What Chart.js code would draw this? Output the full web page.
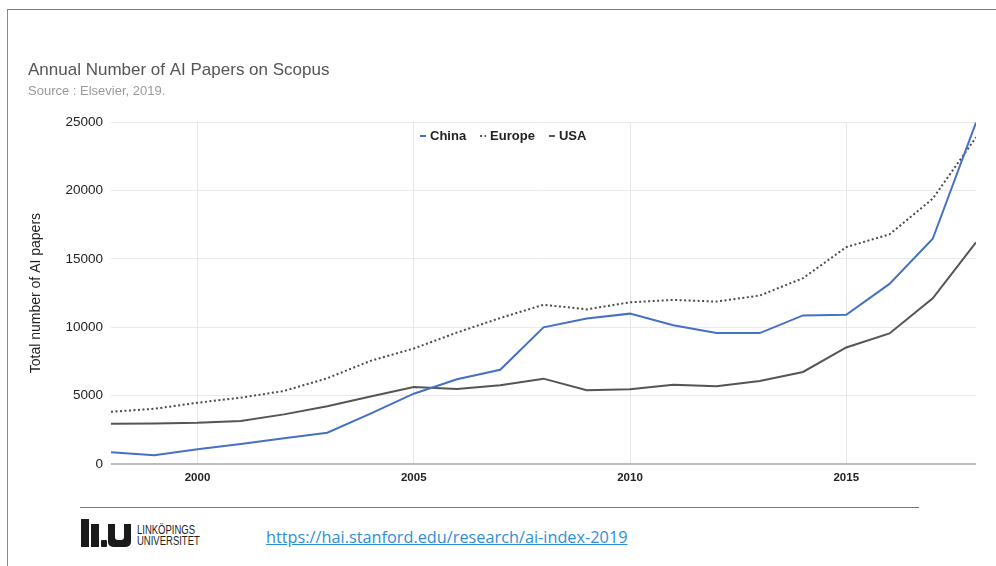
<!DOCTYPE html>
<html>
<head>
<meta charset="utf-8">
<script src="https://cdn.jsdelivr.net/npm/chart.js@4.4.1/dist/chart.umd.min.js"></script>
<style>
  html, body { margin: 0; padding: 0; background: #fff; }
  body { width: 996px; height: 566px; position: relative; overflow: hidden; font-family: "Liberation Sans", Arial, sans-serif; }
  #marco { position: absolute; left: 7px; top: 9px; width: 1000px; height: 600px; border-left: 1px solid #8a8a8a; border-top: 1px solid #7a7a7a; }
  #lienzo { position: absolute; left: 0; top: 0; }
  #pie { position: absolute; left: 80px; top: 507px; width: 839px; border-top: 1px solid #777; }
  .logo { position: absolute; background: #1a1a1a; }
  #universidad { position: absolute; left: 137px; top: 525px; font-size: 12.5px; line-height: 11px; color: #222; transform: scaleX(0.76); transform-origin: left; }
  #enlace { position: absolute; left: 266px; top: 526px; font-family: "Open Sans", sans-serif; font-size: 16.3px; color: #2f8ed6; text-decoration: underline; }
</style>
</head>
<body>
<div id="marco"></div>
<canvas id="lienzo" width="996" height="499"></canvas>
<div id="pie"></div>
<!-- logo LiU -->
<div class="logo" style="left:81px;top:519px;width:8px;height:28px"></div>
<div class="logo" style="left:91px;top:524px;width:8px;height:23px"></div>
<div class="logo" style="left:101px;top:540px;width:6px;height:7px;border-radius:1px"></div>
<div class="logo" style="left:108px;top:524px;width:23px;height:23px;border-radius:0 0 5px 5px"></div>
<div class="logo" style="left:115px;top:524px;width:9px;height:16px;background:#fff;border-radius:0 0 3px 3px"></div>
<div id="universidad">LINKÖPINGS<br>UNIVERSITET</div>
<div id="enlace">https://hai.stanford.edu/research/ai-index-2019</div>

<script>
// Datos: artículos de IA por año (Scopus)
const anios = [1998, 1999, 2000, 2001, 2002, 2003, 2004, 2005, 2006, 2007, 2008,
               2009, 2010, 2011, 2012, 2013, 2014, 2015, 2016, 2017, 2018];
const china = [880, 660, 1100, 1470, 1900, 2300, 3700, 5150, 6200, 6900, 10000,
               10650, 11000, 10150, 9580, 9580, 10870, 10920, 13170, 16470, 24950];
const europa = [3830, 4050, 4490, 4860, 5350, 6280, 7550, 8450, 9620, 10680, 11650,
                11310, 11830, 12000, 11880, 12320, 13590, 15860, 16790, 19400, 23880];
const usa = [2960, 2980, 3030, 3150, 3640, 4230, 4950, 5640, 5500, 5770, 6250,
             5400, 5470, 5810, 5690, 6080, 6740, 8530, 9550, 12120, 16200];
const ticksX = [2000, 2005, 2010, 2015];
const ticksY = [0, 5000, 10000, 15000, 20000, 25000];

const fuente = '"Liberation Sans", Arial, sans-serif';

function puntos(valores) {
    return anios.map(function (a, i) { return { x: a, y: valores[i] }; });
}

// leyenda dentro del área de la gráfica
const leyendaInterna = {
    id: 'leyendaInterna',
    afterDraw: function (chart) {
        const ctx = chart.ctx;
        const area = chart.chartArea;
        let x = area.left + 309;
        const y = area.top + 14;
        ctx.save();
        ctx.font = 'bold 13px ' + fuente;
        ctx.textBaseline = 'middle';
        chart.data.datasets.forEach(function (ds) {
            ctx.strokeStyle = ds.borderColor;
            ctx.lineWidth = 2;
            ctx.setLineDash(ds.borderDash || []);
            ctx.beginPath();
            ctx.moveTo(x, y);
            ctx.lineTo(x + 6, y);
            ctx.stroke();
            ctx.setLineDash([]);
            ctx.fillStyle = '#222';
            ctx.fillText(ds.label, x + 10, y);
            x += 10 + ctx.measureText(ds.label).width + 14;
        });
        ctx.restore();
    }
};

const $Lienzo = document.getElementById('lienzo');

new Chart($Lienzo, {
    type: 'line',
    data: {
        datasets: [
            { label: 'China', data: puntos(china), borderColor: '#4471c4', borderWidth: 2 },
            { label: 'Europe', data: puntos(europa), borderColor: '#4a4a4a', borderWidth: 2, borderDash: [2, 2.5] },
            { label: 'USA', data: puntos(usa), borderColor: '#555555', borderWidth: 2 }
        ]
    },
    options: {
        responsive: false,
        animation: false,
        layout: { padding: { left: 28, right: 20, top: 60, bottom: 7 } },
        elements: { point: { radius: 0 }, line: { tension: 0 } },
        plugins: {
            legend: { display: false },
            tooltip: { enabled: false },
            title: {
                display: true,
                text: 'Annual Number of AI Papers on Scopus',
                align: 'start',
                color: '#555',
                font: { family: fuente, size: 17, weight: 'normal' },
                padding: { top: 0, bottom: 0 }
            },
            subtitle: {
                display: true,
                text: 'Source : Elsevier, 2019.',
                align: 'start',
                color: '#999',
                font: { family: fuente, size: 13 },
                padding: { top: 3, bottom: 23 }
            }
        },
        scales: {
            x: {
                type: 'linear',
                min: 1998,
                max: 2018,
                afterBuildTicks: function (eje) {
                    eje.ticks = ticksX.map(function (v) { return { value: v }; });
                },
                ticks: {
                    color: '#222',
                    font: { family: fuente, size: 11.5, weight: 'bold' },
                    padding: 7,
                    maxRotation: 0,
                    callback: function (v) { return String(v); }
                },
                grid: { color: '#e6e6e6', drawTicks: false },
                border: { display: false }
            },
            y: {
                min: 0,
                max: 25000,
                afterBuildTicks: function (eje) {
                    eje.ticks = ticksY.map(function (v) { return { value: v }; });
                },
                afterFit: function (eje) { eje.width = 83; },
                ticks: {
                    color: '#222',
                    font: { family: fuente, size: 13.5 },
                    padding: 8,
                    callback: function (v) { return String(v); }
                },
                grid: {
                    drawTicks: false,
                    color: function (c) { return c.tick && c.tick.value === 0 ? '#bcbcbc' : '#e9e9e9'; },
                    lineWidth: function (c) { return c.tick && c.tick.value === 0 ? 2 : 1; }
                },
                border: { display: false },
                title: {
                    display: true,
                    text: 'Total number of AI papers',
                    color: '#222',
                    font: { family: fuente, size: 14 },
                    padding: { top: 0, bottom: 0 }
                }
            }
        }
    },
    plugins: [leyendaInterna]
});
</script>
</body>
</html>
